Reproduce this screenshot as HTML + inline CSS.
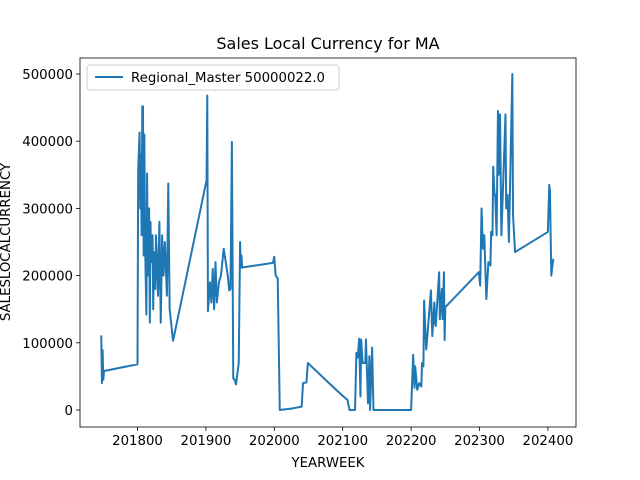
<!DOCTYPE html>
<html><head><meta charset="utf-8"><style>
body{margin:0;background:#fff;}
svg{display:block;font-family:"DejaVu Sans","Liberation Sans",sans-serif;}
</style></head><body>
<svg id="chart" width="640" height="480" viewBox="0 0 640 480">
<rect width="640" height="480" fill="#fff"/>
<text x="328" y="49" font-size="16" text-anchor="middle">Sales Local Currency for MA</text>
<g id="plot"></g>
<text x="328" y="467" font-size="13.3" text-anchor="middle">YEARWEEK</text>
<text transform="translate(10,242) rotate(-90)" font-size="13.3" text-anchor="middle">SALESLOCALCURRENCY</text>
<g>
<rect x="87" y="65" width="252" height="25" rx="3" fill="#fff" fill-opacity="0.8" stroke="#ccc"/>
<line x1="95" y1="77" x2="123" y2="77" stroke="#1f77b4" stroke-width="2"/>
<text x="131" y="82" font-size="13.3">Regional_Master 50000022.0</text>
</g>
</svg>
<script>
const weeks=[201747,201748,201749,201750,201751,201800,201801,201803,201804,201805,201806,201807,201808,201809,201810,201811,201813,201814,201815,201817,201818,201819,201820,201822,201823,201824,201826,201827,201828,201830,201832,201834,201836,201838,201840,201843,201845,201847,201852,201901,201902,201903,201906,201908,201910,201912,201914,201916,201919,201922,201926,201929,201932,201934,201936,201938,201940,201942,201944,201948,201950,201951,201952,201953,201998,202000,202002,202005,202008,202015,202025,202035,202040,202042,202047,202049,202080,202100,202107,202110,202118,202120,202122,202124,202126,202127,202129,202133,202134,202137,202139,202140,202143,202145,202200,202203,202205,202206,202209,202212,202215,202216,202218,202219,202222,202223,202229,202231,202234,202235,202236,202241,202242,202245,202246,202248,202249,202250,202299,202301,202303,202305,202307,202310,202313,202316,202317,202319,202320,202322,202323,202325,202327,202328,202330,202332,202338,202339,202341,202343,202348,202349,202352,202400,202402,202403,202405,202406,202408];
const salesK=[111,40,89,45,58,68,357,413,300,380,260,452,452,230,410,250,142,352,200,300,130,280,220,260,150,235,180,260,235,170,280,130,260,200,250,170,337,150,103,342,468,147,190,160,210,150,220,160,190,200,240,220,200,178,180,399,47,45,38,70,250,212,230,212,219,228,200,196,0,1,2,4,5,40,41,70,40,21,15,0,0,85,78,106,20,105,70,70,105,10,80,0,93,0,0,82,33,65,30,40,35,70,65,163,90,100,178,110,160,130,125,205,135,180,135,205,104,153,205,185,300,240,260,165,220,215,265,260,362,320,320,260,445,350,440,260,440,300,320,250,500,290,235,265,335,325,200,210,225];
const xTicks=[201800,201900,202000,202100,202200,202300,202400];
const yTicks=[0,100000,200000,300000,400000,500000];
const L=80,R=576,T=58,B=427;
const xs=w=>137.5+(w-201800)*0.684;
const ys=v=>410-v*336/500000;
const NS="http://www.w3.org/2000/svg";
const g=document.getElementById('plot');
function mk(t,a){const e=document.createElementNS(NS,t);for(const k in a)e.setAttribute(k,a[k]);g.appendChild(e);return e;}
const pts=weeks.map((w,i)=>xs(w).toFixed(2)+','+ys(salesK[i]*1000).toFixed(2)).join(' ');
const line=mk('polyline',{points:pts,fill:'none',stroke:'#1f77b4','stroke-width':2,'stroke-linejoin':'round'});


const frame=mk('rect',{x:L,y:T,width:R-L,height:B-T,fill:'none',stroke:'#000','stroke-width':0.8});


xTicks.forEach(t=>{const x=xs(t);
 mk('line',{x1:x,y1:B,x2:x,y2:B+4,stroke:'#000','stroke-width':0.8});
 const tx=mk('text',{x:x,y:B+18,'font-size':13.3,'text-anchor':'middle'});tx.textContent=t;
 
 
});
yTicks.forEach(t=>{const y=ys(t);
 mk('line',{x1:L-4,y1:y,x2:L,y2:y,stroke:'#000','stroke-width':0.8});
 const tx=mk('text',{x:L-7,y:y+5,'font-size':13.3,'text-anchor':'end'});tx.textContent=t;
 
 
});
</script>
</body></html>
